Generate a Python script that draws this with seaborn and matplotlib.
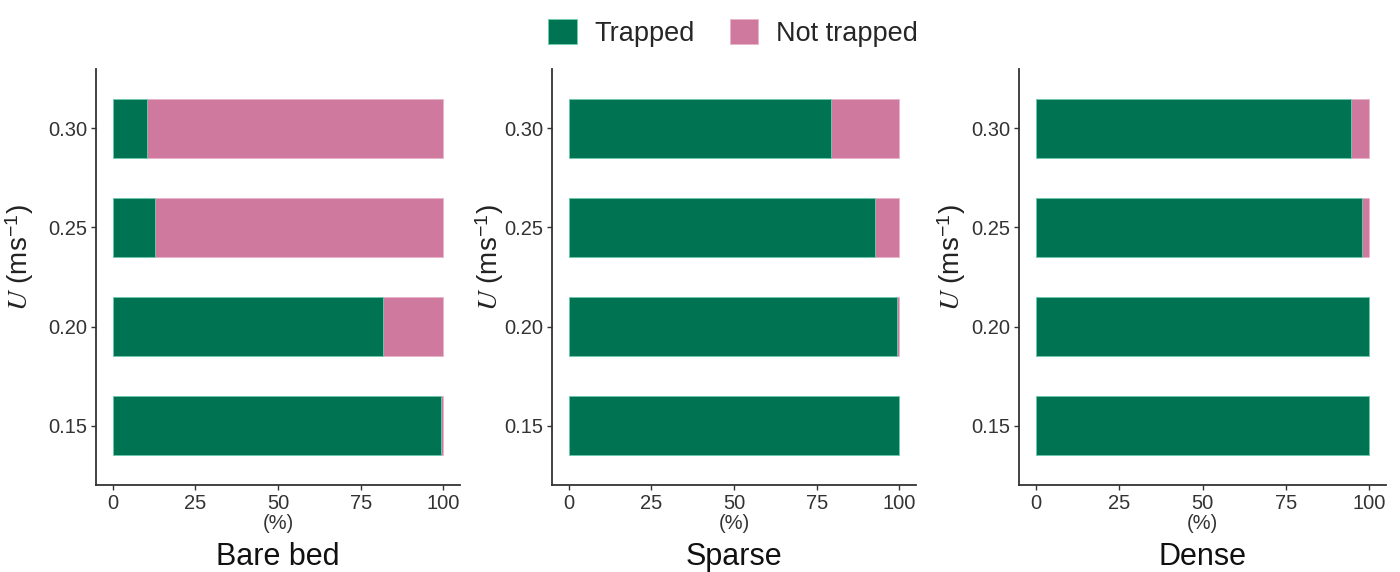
import matplotlib
matplotlib.use("Agg")
import matplotlib.pyplot as plt
from matplotlib.patches import Patch
import seaborn as sns
import pandas as pd

# ---- data ----
speeds = ["0.15", "0.20", "0.25", "0.30"]
panels = ["Bare bed", "Sparse", "Dense"]
bare_trapped = [99.3, 81.7, 12.8, 10.4]
bare_not_trapped = [0.7, 18.3, 87.2, 89.6]
sparse_trapped = [99.8, 99.2, 92.5, 79.3]
sparse_not_trapped = [0.2, 0.8, 7.5, 20.7]
dense_trapped = [100.0, 99.8, 97.7, 94.4]
dense_not_trapped = [0.0, 0.2, 2.3, 5.6]
legend_labels = ["Trapped", "Not trapped"]
x_ticks = [0, 25, 50, 75, 100]

GREEN = "#007352"
PINK = "#cf799f"

sns.set_theme(style="ticks")
plt.rcParams["font.family"] = ["Liberation Sans", "DejaVu Sans"]
plt.rcParams["mathtext.fontset"] = "stix"
plt.rcParams["axes.edgecolor"] = "#333333"

W, H = 1400, 572
fig = plt.figure(figsize=(W / 100, H / 100), dpi=100)

boxes = [(96, 460), (552, 916), (1019, 1386)]
top, bottom = 69, 485
ylabel_x = [20, 490, 952]

data_sets = [
    (bare_trapped, bare_not_trapped),
    (sparse_trapped, sparse_not_trapped),
    (dense_trapped, dense_not_trapped),
]
order = speeds[::-1]

for (l, r), name, (tr, nt), ylx in zip(boxes, panels, data_sets, ylabel_x):
    ax = fig.add_axes([l / W, 1 - bottom / H, (r - l) / W, (bottom - top) / H])
    df = pd.DataFrame({
        "speed": speeds,
        "trapped": tr,
        "not_trapped": nt,
    })
    df["total"] = df["trapped"] + df["not_trapped"]
    sns.barplot(data=df, y="speed", x="total", order=order, orient="h",
                color=PINK, width=0.6, edgecolor="#e9b3cb", linewidth=0.6,
                saturation=1, ax=ax)
    sns.barplot(data=df, y="speed", x="trapped", order=order, orient="h",
                color=GREEN, width=0.6, edgecolor="#6fd1b0", linewidth=0.6,
                saturation=1, ax=ax)
    ax.set_xlim(-5, 105)
    ax.set_ylim(3.6, -0.6)
    ax.set_xticks(x_ticks)
    ax.set_xticklabels([str(t) for t in x_ticks])
    ax.set_xlabel("(%)", fontsize=14.5, color="#333333", labelpad=1)
    ax.set_ylabel("")
    ax.tick_params(axis="both", labelsize=14.5, colors="#333333", length=3.5,
                   width=1.0, pad=3)
    for s in ("left", "bottom"):
        ax.spines[s].set_linewidth(1.3)
        ax.spines[s].set_color("#333333")
    sns.despine(ax=ax)
    fig.text(ylx / W, 1 - 257 / H, r"$U$ (ms$^{\mathregular{-1}}$)",
             rotation=90, ha="center", va="center", fontsize=20, color="#222222")
    fig.text((l + r) / 2 / W, 7 / H, name, ha="center", va="baseline",
             fontsize=22, color="#111111")

handles = [Patch(facecolor=GREEN, edgecolor="#6fd1b0", linewidth=0.6),
           Patch(facecolor=PINK, edgecolor="#e9b3cb", linewidth=0.6)]
fig.legend(handles, legend_labels, loc="upper center",
           bbox_to_anchor=(733 / W, 1 - 8 / H), ncol=2, frameon=False,
           fontsize=19.5, handlelength=1.05, handleheight=1.05,
           handletextpad=0.65, columnspacing=1.3, borderaxespad=0)

fig.savefig("out.png", dpi=100)
